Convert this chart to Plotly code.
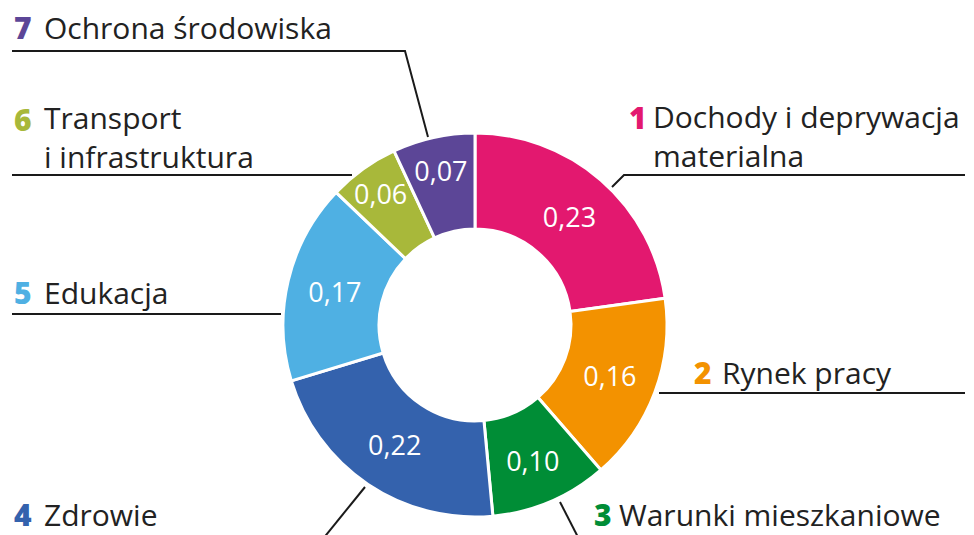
import plotly.graph_objects as go

numbers = ["1", "2", "3", "4", "5", "6", "7"]
categories = ["Dochody i deprywacja<br>materialna", "Rynek pracy", "Warunki mieszkaniowe",
              "Zdrowie", "Edukacja", "Transport<br>i infrastruktura", "Ochrona środowiska"]
values = [0.23, 0.16, 0.10, 0.22, 0.17, 0.06, 0.07]
colors = ["#E3186F", "#F39200", "#008D36", "#3462AD", "#4FB0E3", "#A8B83A", "#5C4697"]

W, H = 974, 535
cx, cy, R = 475, 325, 192

def px(x):
    return x / W

def py(y):
    return 1 - y / H

fig = go.Figure()
fig.add_trace(go.Pie(
    values=values,
    labels=[n + " " + c for n, c in zip(numbers, categories)],
    sort=False,
    direction="clockwise",
    rotation=0,
    hole=0.5,
    marker=dict(colors=colors, line=dict(color="white", width=3)),
    texttemplate="%{value:.2f}",
    textposition="inside",
    insidetextorientation="horizontal",
    textfont=dict(color="white", size=27, family="Open Sans"),
    domain=dict(x=[px(cx - R), px(cx + R)], y=[py(cy + R), py(cy - R)]),
    showlegend=False,
    hoverinfo="label+value",
))

# label placements (decoration): number x, text x, text y (center of first line)
label_pos = {
    0: (627, 651, 118),
    1: (692, 720, 372),
    2: (592, 617, 514),
    3: (12, 42, 514),
    4: (12, 42, 292),
    5: (12, 42, 119),
    6: (12, 42, 27),
}
FS = 30
LH = 36
for i, (nx, tx, ty) in label_pos.items():
    nlines = categories[i].count("<br>") + 1
    fig.add_annotation(x=px(nx), y=py(ty), xref="paper", yref="paper", xanchor="left", yanchor="middle",
                       text=numbers[i], showarrow=False,
                       font=dict(size=FS, color=colors[i], family="Open Sans", weight=800))
    fig.add_annotation(x=px(tx), y=py(ty + (nlines - 1) * LH / 2), xref="paper", yref="paper",
                       xanchor="left", yanchor="middle",
                       text=categories[i], showarrow=False, align="left",
                       font=dict(size=FS, color="#222222", family="Open Sans"))

leaders = [
    [(612, 187), (624, 175), (965, 175)],
    [(659, 393), (965, 393)],
    [(560, 502), (582, 545)],
    [(365, 487), (318, 545)],
    [(12, 314), (281, 314)],
    [(12, 175), (352, 175)],
    [(12, 51), (405, 51), (428, 137)],
]
for pts in leaders:
    path = "M " + " L ".join(f"{px(x)} {py(y)}" for x, y in pts)
    fig.add_shape(type="path", path=path, xref="paper", yref="paper",
                  line=dict(color="#1a1a1a", width=2))

fig.update_layout(
    width=W, height=H,
    margin=dict(l=0, r=0, t=0, b=0),
    paper_bgcolor="white", plot_bgcolor="white",
    separators=", ",
    uniformtext=dict(minsize=27, mode="show"),
    font=dict(family="Open Sans"),
)
fig.write_html("out.html", config={"displayModeBar": False},
               post_script="document.body.style.margin='0';document.body.style.overflow='hidden';")
